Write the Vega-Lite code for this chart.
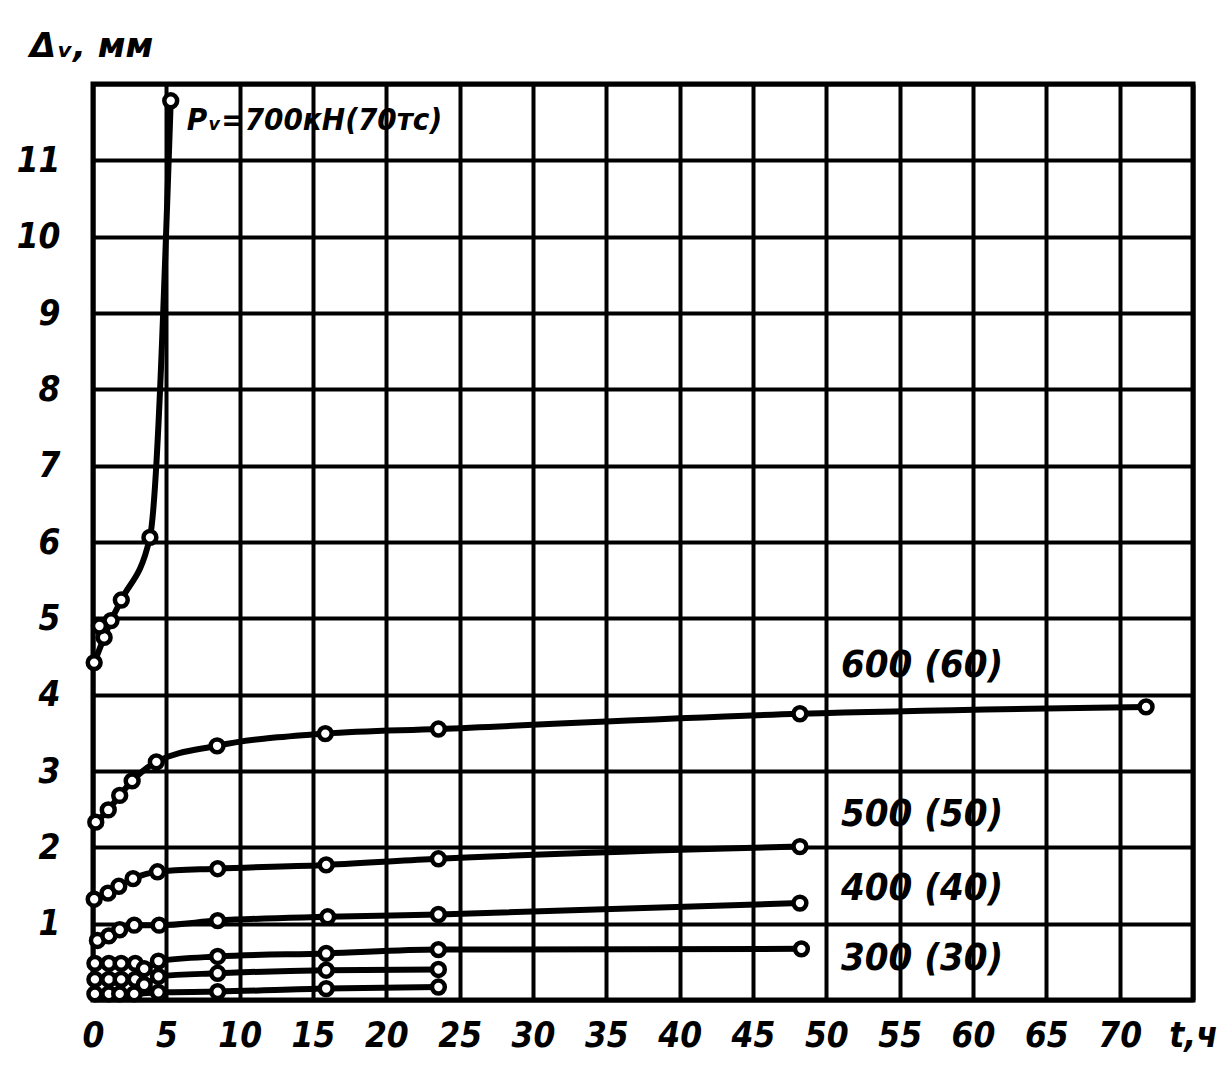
{
  "$schema": "https://vega.github.io/schema/vega-lite/v6.json",
  "width": 1100,
  "height": 916,
  "autosize": {"type": "none"},
  "padding": {"left": 93, "top": 84, "right": 34, "bottom": 79},
  "background": "white",
  "config": {
    "view": {"stroke": "black", "strokeWidth": 5},
    "axis": {
      "domain": false,
      "ticks": false,
      "grid": true,
      "gridColor": "black",
      "gridWidth": 4,
      "gridOpacity": 1,
      "labelOverlap": false,
      "labelBound": false,
      "labelFlush": false,
      "labelFont": "DejaVu Sans Condensed",
      "labelFontSize": 35,
      "labelFontWeight": "bold",
      "labelFontStyle": "italic",
      "labelColor": "black",
      "titleFont": "DejaVu Sans",
      "titleFontSize": 34,
      "titleFontWeight": "bold",
      "titleFontStyle": "italic",
      "titleColor": "black"
    }
  },
  "datasets": {
    "pts": [
      {"series": "700", "t": 0.08, "d": 4.42},
      {"series": "700", "t": 0.76, "d": 4.75},
      {"series": "700", "t": 1.23, "d": 4.97},
      {"series": "700", "t": 1.93, "d": 5.24},
      {"series": "700", "t": 3.88, "d": 6.06},
      {"series": "700", "t": 5.3, "d": 11.78},
      {"series": "700b", "t": 0.44, "d": 4.9},
      {"series": "600", "t": 0.19, "d": 2.33},
      {"series": "600", "t": 1.04, "d": 2.49},
      {"series": "600", "t": 1.82, "d": 2.68},
      {"series": "600", "t": 2.67, "d": 2.87},
      {"series": "600", "t": 4.32, "d": 3.12},
      {"series": "600", "t": 8.46, "d": 3.33},
      {"series": "600", "t": 15.84, "d": 3.49},
      {"series": "600", "t": 23.55, "d": 3.55},
      {"series": "600", "t": 48.2, "d": 3.75},
      {"series": "600", "t": 71.8, "d": 3.84},
      {"series": "500", "t": 0.08, "d": 1.32},
      {"series": "500", "t": 1.02, "d": 1.4},
      {"series": "500", "t": 1.76, "d": 1.49},
      {"series": "500", "t": 2.73, "d": 1.59},
      {"series": "500", "t": 4.4, "d": 1.68},
      {"series": "500", "t": 8.5, "d": 1.72},
      {"series": "500", "t": 15.9, "d": 1.77},
      {"series": "500", "t": 23.55, "d": 1.85},
      {"series": "500", "t": 48.2, "d": 2.01},
      {"series": "400", "t": 0.3, "d": 0.78},
      {"series": "400", "t": 1.08, "d": 0.84},
      {"series": "400", "t": 1.82, "d": 0.92},
      {"series": "400", "t": 2.81, "d": 0.98},
      {"series": "400", "t": 4.51, "d": 0.98},
      {"series": "400", "t": 8.5, "d": 1.04},
      {"series": "400", "t": 16.0, "d": 1.09},
      {"series": "400", "t": 23.55, "d": 1.12},
      {"series": "400", "t": 48.2, "d": 1.27},
      {"series": "300", "t": 0.13, "d": 0.48},
      {"series": "300", "t": 1.08, "d": 0.48},
      {"series": "300", "t": 1.92, "d": 0.48},
      {"series": "300", "t": 2.88, "d": 0.48},
      {"series": "300", "t": 3.49, "d": 0.41},
      {"series": "300", "t": 4.46, "d": 0.51},
      {"series": "300", "t": 8.5, "d": 0.57},
      {"series": "300", "t": 15.9, "d": 0.61},
      {"series": "300", "t": 23.55, "d": 0.66},
      {"series": "300", "t": 48.3, "d": 0.67},
      {"series": "200", "t": 0.13, "d": 0.27},
      {"series": "200", "t": 1.08, "d": 0.27},
      {"series": "200", "t": 1.92, "d": 0.27},
      {"series": "200", "t": 2.88, "d": 0.27},
      {"series": "200", "t": 3.49, "d": 0.2},
      {"series": "200", "t": 4.46, "d": 0.31},
      {"series": "200", "t": 8.5, "d": 0.35},
      {"series": "200", "t": 15.9, "d": 0.39},
      {"series": "200", "t": 23.55, "d": 0.4},
      {"series": "100", "t": 0.13, "d": 0.08},
      {"series": "100", "t": 1.08, "d": 0.08},
      {"series": "100", "t": 1.82, "d": 0.08},
      {"series": "100", "t": 2.81, "d": 0.08},
      {"series": "100", "t": 4.46, "d": 0.1},
      {"series": "100", "t": 8.5, "d": 0.11},
      {"series": "100", "t": 15.9, "d": 0.15},
      {"series": "100", "t": 23.55, "d": 0.17}
    ],
    "annot": [
      {"t": 6.4, "d": 11.52, "label": "Pᵥ=700кН(70тс)"}
    ],
    "labels": [
      {"t": 51.0, "d": 4.38, "label": "600 (60)"},
      {"t": 51.0, "d": 2.42, "label": "500 (50)"},
      {"t": 51.0, "d": 1.45, "label": "400 (40)"},
      {"t": 51.0, "d": 0.54, "label": "300 (30)"}
    ]
  },
  "encoding": {
    "x": {
      "field": "t",
      "type": "quantitative",
      "scale": {"domain": [0, 75], "nice": false, "zero": false},
      "axis": {
        "values": [0, 5, 10, 15, 20, 25, 30, 35, 40, 45, 50, 55, 60, 65, 70, 75],
        "labelExpr": "datum.value == 75 ? 't,ч' : datum.label",
        "labelPadding": 18,
        "title": null
      }
    },
    "y": {
      "field": "d",
      "type": "quantitative",
      "scale": {"domain": [0, 12], "nice": false, "zero": false},
      "axis": {
        "values": [0, 1, 2, 3, 4, 5, 6, 7, 8, 9, 10, 11, 12],
        "labelExpr": "datum.value == 0 || datum.value == 12 ? '' : datum.label",
        "labelPadding": 33,
        "title": "Δᵥ, мм",
        "titleAngle": 0,
        "titleX": -2,
        "titleY": -38,
        "titleAlign": "center",
        "titleBaseline": "middle"
      }
    }
  },
  "layer": [
    {
      "data": {"name": "pts"},
      "mark": {"type": "line", "color": "black", "strokeWidth": 6, "interpolate": "monotone"},
      "encoding": {"detail": {"field": "series"}}
    },
    {
      "data": {"name": "pts"},
      "mark": {"type": "point", "shape": "circle", "filled": true, "fill": "white", "stroke": "black", "strokeWidth": 4.5, "size": 165, "opacity": 1}
    },
    {
      "data": {"name": "annot"},
      "mark": {"type": "text", "align": "left", "baseline": "middle", "font": "DejaVu Sans Condensed", "fontSize": 31, "fontStyle": "italic", "fontWeight": "bold", "color": "black"},
      "encoding": {"text": {"field": "label"}}
    },
    {
      "data": {"name": "labels"},
      "mark": {"type": "text", "align": "left", "baseline": "middle", "font": "DejaVu Sans Condensed", "fontSize": 38, "fontStyle": "italic", "fontWeight": "bold", "color": "black"},
      "encoding": {"text": {"field": "label"}}
    }
  ]
}
